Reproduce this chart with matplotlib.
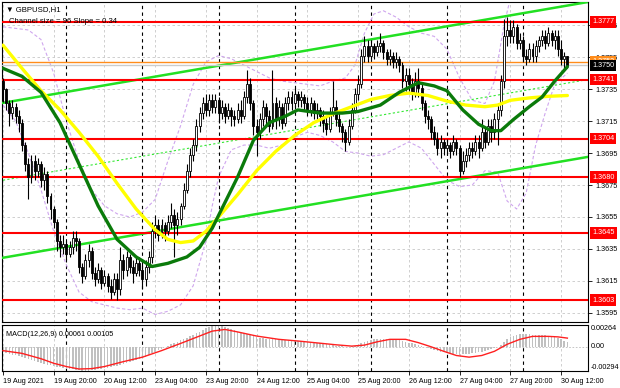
import matplotlib.pyplot as plt
import numpy as np
from matplotlib.transforms import blended_transform_factory

plt.rcParams['font.family'] = ['Liberation Sans', 'DejaVu Sans']

# ---------------------------------------------------------------- data
first_open = 1.3740
closes = [1.3735, 1.3726, 1.3720, 1.3724, 1.3718, 1.3714, 1.3700, 1.3688, 1.3680, 1.3690,
          1.3684, 1.3688, 1.3678, 1.3682, 1.3668, 1.3660, 1.3652, 1.3640, 1.3636, 1.3638,
          1.3632, 1.3636, 1.3642, 1.3640, 1.3624, 1.3618, 1.3628, 1.3634, 1.3620, 1.3616,
          1.3622, 1.3614, 1.3618, 1.3612, 1.3608, 1.3616, 1.3610, 1.3628, 1.3622, 1.3630,
          1.3624, 1.3620, 1.3626, 1.3622, 1.3616, 1.3624, 1.3630, 1.3646, 1.3650, 1.3644,
          1.3650, 1.3646, 1.3652, 1.3656, 1.3650, 1.3654, 1.3662, 1.3672, 1.3684, 1.3694,
          1.3700, 1.3712, 1.3720, 1.3726, 1.3722, 1.3728, 1.3724, 1.3728, 1.3720, 1.3724,
          1.3718, 1.3722, 1.3718, 1.3716, 1.3722, 1.3718, 1.3730, 1.3738, 1.3726, 1.3712,
          1.3708, 1.3716, 1.3724, 1.3718, 1.3712, 1.3726, 1.3716, 1.3724, 1.3714, 1.3726,
          1.3730, 1.3726, 1.3732, 1.3728, 1.3730, 1.3726, 1.3722, 1.3726, 1.3720, 1.3722,
          1.3718, 1.3714, 1.3710, 1.3720, 1.3724, 1.3716, 1.3712, 1.3708, 1.3702, 1.3712,
          1.3722, 1.3732, 1.3738, 1.3756, 1.3762, 1.3756, 1.3762, 1.3758, 1.3762, 1.3764,
          1.3758, 1.3754, 1.3756, 1.3752, 1.3754, 1.3750, 1.3740, 1.3744, 1.3738, 1.3732,
          1.3740, 1.3736, 1.3726, 1.3718, 1.3716, 1.3708, 1.3704, 1.3698, 1.3702, 1.3698,
          1.3700, 1.3696, 1.3702, 1.3698, 1.3684, 1.3690, 1.3694, 1.3698, 1.3696, 1.3702,
          1.3698, 1.3708, 1.3702, 1.3712, 1.3708, 1.3716, 1.3722, 1.3740, 1.3768, 1.3772,
          1.3768, 1.3774, 1.3764, 1.3766, 1.3756, 1.3754, 1.3760, 1.3756, 1.3762, 1.3766,
          1.3768, 1.3764, 1.3770, 1.3766, 1.3768, 1.3760, 1.3754, 1.3756, 1.3750]
highs = [1.3742, 1.3736, 1.3728, 1.3728, 1.3726, 1.3722, 1.3716, 1.3702, 1.3692, 1.3694,
         1.3694, 1.3692, 1.3690, 1.3686, 1.3684, 1.3670, 1.3662, 1.3654, 1.3644, 1.3644,
         1.3640, 1.3640, 1.3646, 1.3646, 1.3642, 1.3626, 1.3632, 1.3638, 1.3636, 1.3624,
         1.3626, 1.3624, 1.3622, 1.3620, 1.3616, 1.3620, 1.3620, 1.3636, 1.3632, 1.3634,
         1.3632, 1.3628, 1.3630, 1.3630, 1.3628, 1.3628, 1.3634, 1.3652, 1.3656, 1.3654,
         1.3654, 1.3652, 1.3656, 1.3664, 1.3660, 1.3658, 1.3664, 1.3676, 1.3688, 1.3698,
         1.3704, 1.3716, 1.3724, 1.3730, 1.3732, 1.3732, 1.3732, 1.3732, 1.3730, 1.3728,
         1.3726, 1.3726, 1.3724, 1.3722, 1.3726, 1.3728, 1.3734, 1.3747, 1.3742, 1.3728,
         1.3716, 1.3720, 1.3728, 1.3726, 1.3722, 1.3747, 1.3730, 1.3728, 1.3726, 1.3730,
         1.3734, 1.3734, 1.3736, 1.3734, 1.3734, 1.3732, 1.3730, 1.3730, 1.3728, 1.3726,
         1.3724, 1.3722, 1.3718, 1.3724, 1.3740, 1.3728, 1.3720, 1.3714, 1.3710, 1.3716,
         1.3726, 1.3736, 1.3744, 1.3760, 1.3768, 1.3766, 1.3766, 1.3764, 1.3766, 1.3770,
         1.3766, 1.3760, 1.3760, 1.3758, 1.3758, 1.3756, 1.3752, 1.3748, 1.3748, 1.3742,
         1.3746, 1.3748, 1.3738, 1.3728, 1.3722, 1.3718, 1.3712, 1.3708, 1.3706, 1.3704,
         1.3704, 1.3702, 1.3706, 1.3704, 1.3700, 1.3696, 1.3698, 1.3702, 1.3702, 1.3706,
         1.3706, 1.3716, 1.3712, 1.3716, 1.3716, 1.3720, 1.3726, 1.3744, 1.3779, 1.3780,
         1.3778, 1.3778, 1.3776, 1.3770, 1.3768, 1.3760, 1.3764, 1.3764, 1.3766, 1.3768,
         1.3772, 1.3772, 1.3774, 1.3772, 1.3772, 1.3772, 1.3766, 1.3758, 1.3756]
lows = [1.3727, 1.3722, 1.3712, 1.3716, 1.3714, 1.3708, 1.3696, 1.3684, 1.3666, 1.3676,
        1.3678, 1.3680, 1.3674, 1.3672, 1.3664, 1.3654, 1.3648, 1.3634, 1.3630, 1.3632,
        1.3628, 1.3630, 1.3632, 1.3634, 1.3620, 1.3614, 1.3616, 1.3624, 1.3616, 1.3612,
        1.3614, 1.3610, 1.3612, 1.3608, 1.3604, 1.3606, 1.3603, 1.3606, 1.3616, 1.3618,
        1.3620, 1.3614, 1.3618, 1.3618, 1.3610, 1.3612, 1.3620, 1.3626, 1.3642, 1.3640,
        1.3642, 1.3640, 1.3644, 1.3648, 1.3630, 1.3644, 1.3650, 1.3660, 1.3670, 1.3680,
        1.3690, 1.3696, 1.3708, 1.3716, 1.3718, 1.3718, 1.3720, 1.3720, 1.3714, 1.3716,
        1.3714, 1.3716, 1.3712, 1.3712, 1.3714, 1.3714, 1.3716, 1.3726, 1.3722, 1.3706,
        1.3693, 1.3704, 1.3712, 1.3712, 1.3708, 1.3710, 1.3710, 1.3712, 1.3710, 1.3712,
        1.3722, 1.3722, 1.3724, 1.3724, 1.3724, 1.3722, 1.3718, 1.3718, 1.3716, 1.3716,
        1.3712, 1.3708, 1.3706, 1.3708, 1.3718, 1.3712, 1.3708, 1.3702, 1.3696, 1.3700,
        1.3710, 1.3720, 1.3728, 1.3736, 1.3752, 1.3752, 1.3754, 1.3754, 1.3756, 1.3758,
        1.3754, 1.3750, 1.3750, 1.3748, 1.3748, 1.3746, 1.3736, 1.3734, 1.3734, 1.3728,
        1.3730, 1.3730, 1.3722, 1.3714, 1.3710, 1.3704, 1.3700, 1.3694, 1.3692, 1.3694,
        1.3694, 1.3692, 1.3694, 1.3694, 1.3680, 1.3682, 1.3686, 1.3690, 1.3692, 1.3694,
        1.3692, 1.3696, 1.3698, 1.3700, 1.3702, 1.3704, 1.3700, 1.3718, 1.3736, 1.3762,
        1.3764, 1.3764, 1.3760, 1.3760, 1.3752, 1.3750, 1.3752, 1.3752, 1.3752, 1.3758,
        1.3762, 1.3760, 1.3762, 1.3762, 1.3760, 1.3756, 1.3750, 1.3748, 1.3748]

# moving averages (bar index, price)
ma_green_x = [0, 6, 12, 18, 24, 30, 36, 42, 47, 52, 58, 62, 66, 70, 74, 79, 84, 89, 93, 100,
              107, 112, 119, 125, 131, 136, 140, 145, 150, 154, 157, 161, 166, 170, 174, 178]
ma_green_y = [1.3748, 1.3743, 1.3733, 1.3714, 1.3688, 1.3662, 1.3641, 1.3630, 1.3624, 1.3626,
              1.3630, 1.3636, 1.3648, 1.3664, 1.3680, 1.3703, 1.3714, 1.3718, 1.3722, 1.3720,
              1.3720, 1.3721, 1.3725, 1.3733, 1.3739, 1.3737, 1.3734, 1.3722, 1.3713, 1.3709,
              1.3709, 1.3716, 1.3724, 1.3730, 1.3740, 1.3749]
ma_yellow_x = [0, 6, 12, 18, 24, 30, 36, 42, 48, 52, 56, 60, 64, 68, 74, 80, 86, 92, 98, 104,
               110, 116, 122, 128, 134, 140, 146, 152, 156, 160, 166, 172, 178]
ma_yellow_y = [1.37625, 1.3748, 1.3734, 1.3722, 1.3708, 1.3693, 1.3676, 1.3660, 1.3647, 1.3641,
               1.3639, 1.3640, 1.3646, 1.3655, 1.3669, 1.3684, 1.3696, 1.3706, 1.3714, 1.37195,
               1.3724, 1.37285, 1.3731, 1.37325, 1.3731, 1.37275, 1.3725, 1.3724, 1.3725, 1.3728,
               1.37295, 1.37305, 1.3731]

# bollinger bands (bar index, price)
bb_up_x = [0, 8, 12, 16, 20, 24, 28, 32, 36, 40, 44, 48, 52, 56, 60, 64, 68, 72, 76, 80, 84,
           88, 92, 96, 100, 104, 108, 111, 114, 117, 120, 124, 128, 132, 136, 140, 144, 148,
           152, 155, 158, 161, 165, 170, 174, 178]
bb_up_y = [1.3774, 1.3772, 1.3766, 1.3745, 1.3715, 1.3690, 1.3672, 1.3662, 1.3657, 1.3655,
           1.3658, 1.3666, 1.3690, 1.3712, 1.3738, 1.3752, 1.3756, 1.3754, 1.3750, 1.3746,
           1.3742, 1.3740, 1.3739, 1.3738, 1.3737, 1.3740, 1.3742, 1.3750, 1.3770, 1.3782,
           1.3784, 1.3780, 1.3774, 1.3770, 1.3768, 1.3760, 1.3742, 1.3728, 1.3726, 1.3740,
           1.3775, 1.3800, 1.3805, 1.3800, 1.3795, 1.3790]
bb_lo_x = [0, 4, 8, 12, 16, 20, 24, 28, 32, 36, 40, 44, 48, 52, 56, 60, 64, 66, 68, 72, 76,
           80, 84, 88, 92, 96, 100, 104, 108, 112, 116, 120, 124, 128, 132, 136, 140, 144,
           148, 152, 156, 159, 162, 165, 168, 171, 174, 178]
bb_lo_y = [1.3725, 1.3715, 1.3695, 1.3672, 1.3646, 1.3625, 1.3608, 1.3602, 1.3600, 1.3598,
           1.3597, 1.3598, 1.3594, 1.3596, 1.3600, 1.3612, 1.3640, 1.3662, 1.3680, 1.3697,
           1.3700, 1.3700, 1.3698, 1.3700, 1.3705, 1.3708, 1.3706, 1.3702, 1.3696, 1.3695,
           1.3693, 1.3694, 1.3698, 1.3702, 1.3698, 1.3688, 1.3678, 1.3674, 1.3675, 1.3684,
           1.3683, 1.3665, 1.3660, 1.3670, 1.3700, 1.3720, 1.3738, 1.3745]

# equidistant channel (bar index at both ends)
chan_x = [0, 184.5]
chan_upper = [1.37264, 1.37895]
chan_mid = [1.36780, 1.37410]
chan_lower = [1.36295, 1.36926]

levels = [1.3777, 1.3741, 1.3704, 1.3680, 1.3645, 1.3603]
price_ticks = [1.3595, 1.3615, 1.3635, 1.3655, 1.3675, 1.3695, 1.3715, 1.3735, 1.3755, 1.3775]
last_price = 1.3750
orange_level = 1.3752

date_labels = ['19 Aug 2021', '19 Aug 20:00', '20 Aug 12:00', '23 Aug 04:00', '23 Aug 20:00',
               '24 Aug 12:00', '25 Aug 04:00', '25 Aug 20:00', '26 Aug 12:00', '27 Aug 04:00',
               '27 Aug 20:00', '30 Aug 12:00']
day_starts = [20, 44, 68, 92, 116, 140, 164]

# MACD main (histogram) in 1e-5 units, one per bar
macd_main = [-67, -75, -85, -95, -105, -115,
             -126, -138, -150, -160, -172, -185,
             -200, -210, -218, -226, -234, -242,
             -250, -258, -265, -270, -275, -280,
             -285, -292, -294, -290, -284, -278,
             -270, -264, -258, -252, -246, -238,
             -230, -222, -212, -200, -188, -175,
             -160, -148, -135, -120, -100, -80,
             -58, -40, -22, -5, 10, 30,
             48, 62, 78, 95, 110, 125,
             145, 165, 185, 205, 225, 245,
             258, 264, 260, 250, 238, 225,
             210, 198, 185, 172, 165, 160,
             148, 135, 120, 110, 104, 100,
             95, 95, 90, 85, 82, 80,
             78, 76, 72, 68, 64, 60,
             55, 52, 48, 44, 40, 35,
             28, 22, 18, 14, 10, 6,
             3, 2, 5, 12, 20, 40,
             60, 75, 85, 92, 96, 100,
             100, 98, 95, 92, 88, 80,
             70, 60, 50, 40, 30, 20,
             8, -5, -18, -30, -42, -52,
             -60, -68, -75, -80, -86, -90,
             -94, -92, -88, -84, -78, -72,
             -65, -58, -50, -42, -32, -20,
             -5, 20, 60, 95, 120, 135,
             145, 150, 152, 152, 150, 148,
             146, 144, 142, 140, 136, 130,
             120, 105, 90, 75, 61]
signal_x = [0, 6, 12, 16, 20, 24, 28, 32, 38, 44, 50, 56, 62, 66, 70, 74, 80, 87, 93, 99,
            105, 110, 114, 118, 122, 127, 131, 135, 139, 143, 147, 151, 155, 159, 163, 167,
            172, 175, 178]
signal_y = [-47, -80, -145, -200, -240, -270, -265, -240, -180, -126, -47, 40, 130, 190, 210,
            180, 130, 90, 70, 47, 24, 8, 20, 60, 90, 90, 50, 0, -55, -106, -126, -106, -55,
            30, 90, 126, 126, 120, 105]

# ---------------------------------------------------------------- figure
W, H = 620, 388
FS = 5.2
fig = plt.figure(figsize=(W / 100, H / 100), dpi=100)
ax = fig.add_axes([2 / W, 1 - 322 / H, 586 / W, 320 / H])
ax2 = fig.add_axes([2 / W, 1 - 371 / H, 586 / W, 46 / H])

n = len(closes)
x = np.arange(n)
c = np.array(closes)
o = np.array([first_open] + closes[:-1])
h = np.maximum(np.array(highs), np.maximum(o, c))
l = np.minimum(np.array(lows), np.minimum(o, c))

xlim = (-0.3, 184.5)
ylim = (1.35893, 1.37895)

# grid
for t in price_ticks:
    ax.axhline(t, color='#c8c8c8', lw=0.6, ls=(0, (3, 3)), zorder=0)
for i in range(0, n, 16):
    ax.axvline(i, color='#c8c8c8', lw=0.6, ls=(0, (3, 3)), zorder=0)
    ax2.axvline(i, color='#c8c8c8', lw=0.6, ls=(0, (3, 3)), zorder=0)
for d in day_starts:
    ax.axvline(d, color='black', lw=0.8, ls=(0, (3, 3)), zorder=1)
    ax2.axvline(d, color='black', lw=0.8, ls=(0, (3, 3)), zorder=1)

# indicator lines
ax.plot(bb_up_x, bb_up_y, color='#cfa6ee', lw=0.8, ls=(0, (3, 2)), zorder=2)
ax.plot(bb_lo_x, bb_lo_y, color='#cfa6ee', lw=0.8, ls=(0, (3, 2)), zorder=2)
ax.plot(chan_x, chan_mid, color='#33e833', lw=0.8, ls=(0, (2, 2)), zorder=2)
ax.plot(chan_x, chan_upper, color='#22e022', lw=1.8, zorder=3)
ax.plot(chan_x, chan_lower, color='#22e022', lw=1.8, zorder=3)

for lv in levels:
    ax.axhline(lv, color='#ff0000', lw=1.5, zorder=3)
ax.axhline(orange_level, color='#ff8c1a', lw=1.0, zorder=3)
ax.axhline(last_price, color='#cccccc', lw=1.0, zorder=3)

# candles
ax.vlines(x, l, h, color='black', lw=0.8, zorder=4)
up = c >= o
ax.bar(x[up], (c - o)[up], bottom=o[up], width=0.62, color='white', edgecolor='black',
       linewidth=0.6, zorder=5)
ax.bar(x[~up], (o - c)[~up], bottom=c[~up], width=0.62, color='black', edgecolor='black',
       linewidth=0.6, zorder=5)

ax.plot(ma_yellow_x, ma_yellow_y, color='#ffff00', lw=2.4, zorder=6, solid_capstyle='round')
ax.plot(ma_green_x, ma_green_y, color='#0a7a0a', lw=2.4, zorder=7, solid_capstyle='round')

ax.set_xlim(*xlim)
ax.set_ylim(*ylim)
ax.set_xticks([])
ax.yaxis.tick_right()
ax.set_yticks(price_ticks)
ax.set_yticklabels(['%.4f' % t for t in price_ticks])
ax.tick_params(axis='y', length=3, width=0.6, labelsize=FS, pad=2)
for s in ax.spines.values():
    s.set_linewidth(0.8)

# right-side price boxes
tr = blended_transform_factory(ax.transAxes, ax.transData)
bx = 1 + 4 / 586
for lv in levels:
    ax.text(bx, lv, '%.4f' % lv, transform=tr, fontsize=FS, color='white',
            va='center', ha='left', clip_on=False, zorder=10,
            bbox=dict(boxstyle='square,pad=0.3', fc='#ff0000', ec='none'))
ax.text(bx, orange_level + 0.00004, '%.4f' % orange_level, transform=tr, fontsize=FS,
        color='white', va='center', ha='left', clip_on=False, zorder=10,
        bbox=dict(boxstyle='square,pad=0.3', fc='#ff8c1a', ec='none'))
ax.text(bx, last_price - 0.00002, '%.4f' % last_price, transform=tr, fontsize=FS,
        color='white', va='center', ha='left', clip_on=False, zorder=11,
        bbox=dict(boxstyle='square,pad=0.3', fc='black', ec='none'))

ax.text(0.006, 0.988, '\u25bc GBPUSD,H1', transform=ax.transAxes, fontsize=5.6,
        va='top', ha='left', zorder=12)
ax.text(0.012, 0.95, 'Channel size = 96 Slope = 0.34', transform=ax.transAxes,
        fontsize=5.6, va='top', ha='left', zorder=12)

# MACD panel
ax2.bar(x, np.array(macd_main) * 1e-5, width=0.5, color='#c0c0c0', zorder=2)
ax2.plot(signal_x, np.array(signal_y) * 1e-5, color='#ff2020', lw=1.0, zorder=3)
ax2.axhline(0, color='#bbbbbb', lw=0.6, ls=(0, (2, 2)), zorder=1)
ax2.set_xlim(*xlim)
ax2.set_ylim(-0.00294, 0.00264)
ax2.set_yticks([])
tr2 = blended_transform_factory(ax2.transAxes, ax2.transData)
mx = 1 + 3 / 586
ax2.text(mx, 0.00264, '0.00264', transform=tr2, fontsize=FS, va='top', ha='left')
ax2.text(mx, 0.0, '0.00', transform=tr2, fontsize=FS, va='center', ha='left')
ax2.text(mx, -0.00294, '-0.00294', transform=tr2, fontsize=FS, va='bottom', ha='left')
ax2.text(0.006, 0.88, 'MACD(12,26,9) 0.00061 0.00105', transform=ax2.transAxes,
         fontsize=FS, va='top', ha='left')
ax2.set_xticks(range(0, n, 16))
ax2.set_xticklabels(date_labels, ha='left')
ax2.tick_params(axis='x', length=3, width=0.6, labelsize=FS, pad=2)
for s in ax2.spines.values():
    s.set_linewidth(0.8)

fig.savefig('out.png', dpi=100)
